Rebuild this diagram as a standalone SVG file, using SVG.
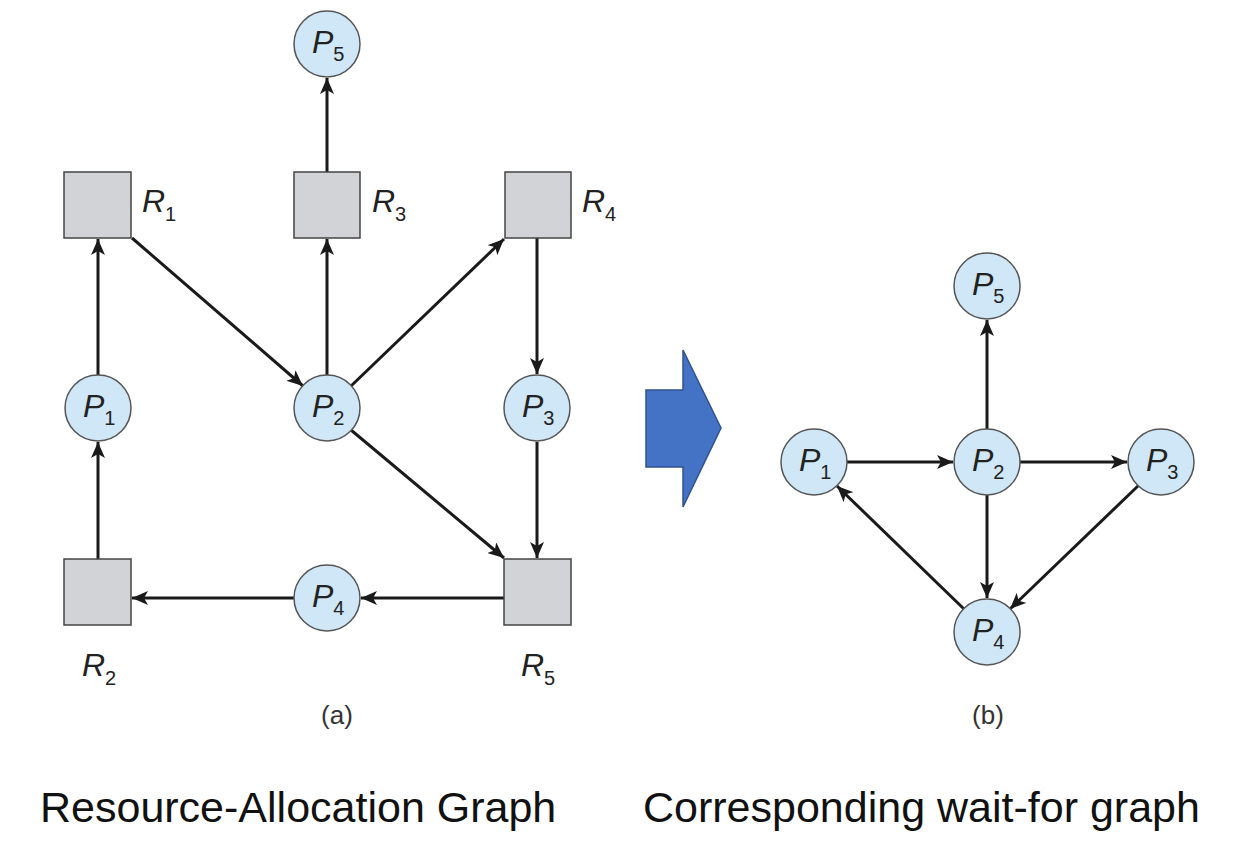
<svg xmlns="http://www.w3.org/2000/svg" width="1234" height="865" viewBox="0 0 1234 865">
<style>
.p{fill:#cfe7f6;stroke:#555;stroke-width:1.5}
.r{fill:#d1d3d6;stroke:#444;stroke-width:1.5}
.e{stroke:#1a1a1a;stroke-width:3;fill:none;marker-end:url(#ah)}
.lb{font-family:"Liberation Sans",Arial,sans-serif;fill:#222}
.it{font-style:italic;font-size:32px}
.sb{font-size:20px}
.cap{font-family:"Liberation Sans",Arial,sans-serif;font-size:43px;fill:#111}
.sm{font-family:"Liberation Sans",Arial,sans-serif;font-size:26px;fill:#333}
</style>
<defs>
<marker id="ah" markerUnits="userSpaceOnUse" markerWidth="18" markerHeight="14" refX="16" refY="7" orient="auto">
<path d="M0,0 L16,7 L0,14 L4,7 Z" fill="#1a1a1a"/>
</marker>
</defs>
<rect width="1234" height="865" fill="#fff"/>
<g id="connectors">
<line class="e" x1="327" y1="172" x2="327" y2="78"/>
<line class="e" x1="327" y1="375" x2="327" y2="239"/>
<line class="e" x1="132" y1="238" x2="303" y2="386"/>
<line class="e" x1="351" y1="386" x2="504" y2="239"/>
<line class="e" x1="537" y1="238" x2="537" y2="374"/>
<line class="e" x1="537" y1="442" x2="537" y2="558"/>
<line class="e" x1="351" y1="430" x2="504" y2="558"/>
<line class="e" x1="504" y1="598" x2="361" y2="598"/>
<line class="e" x1="294" y1="598" x2="132" y2="598"/>
<line class="e" x1="98" y1="559" x2="98" y2="442"/>
<line class="e" x1="98" y1="375" x2="98" y2="239"/>
<line class="e" x1="987" y1="429" x2="987" y2="320"/>
<line class="e" x1="847" y1="462" x2="953" y2="462"/>
<line class="e" x1="1020" y1="462" x2="1127" y2="462"/>
<line class="e" x1="987" y1="495" x2="987" y2="598"/>
<line class="e" x1="1139" y1="485" x2="1010" y2="609"/>
<line class="e" x1="964" y1="609" x2="837" y2="486"/>
</g>
<g id="R1"><rect class="r" x="64" y="172" width="67" height="66"/><text class="lb" x="142" y="212"><tspan class="it">R</tspan><tspan class="sb" dy="9">1</tspan></text></g>
<g id="R3"><rect class="r" x="294" y="172" width="66" height="66"/><text class="lb" x="372" y="212"><tspan class="it">R</tspan><tspan class="sb" dy="9">3</tspan></text></g>
<g id="R4"><rect class="r" x="505" y="172" width="66" height="66"/><text class="lb" x="582" y="212"><tspan class="it">R</tspan><tspan class="sb" dy="9">4</tspan></text></g>
<g id="R2"><rect class="r" x="64" y="559" width="67" height="66"/><text class="lb" x="82" y="676"><tspan class="it">R</tspan><tspan class="sb" dy="9">2</tspan></text></g>
<g id="R5"><rect class="r" x="504" y="559" width="67" height="66"/><text class="lb" x="521" y="676"><tspan class="it">R</tspan><tspan class="sb" dy="9">5</tspan></text></g>
<g id="P5a"><circle class="p" cx="327" cy="44" r="33"/><text class="lb" x="312" y="53"><tspan class="it">P</tspan><tspan class="sb" dy="8">5</tspan></text></g>
<g id="P1a"><circle class="p" cx="98" cy="408" r="33"/><text class="lb" x="83" y="417"><tspan class="it">P</tspan><tspan class="sb" dy="8">1</tspan></text></g>
<g id="P2a"><circle class="p" cx="327" cy="408" r="33"/><text class="lb" x="312" y="417"><tspan class="it">P</tspan><tspan class="sb" dy="8">2</tspan></text></g>
<g id="P3a"><circle class="p" cx="537" cy="408" r="33"/><text class="lb" x="522" y="417"><tspan class="it">P</tspan><tspan class="sb" dy="8">3</tspan></text></g>
<g id="P4a"><circle class="p" cx="327" cy="598" r="33"/><text class="lb" x="312" y="607"><tspan class="it">P</tspan><tspan class="sb" dy="8">4</tspan></text></g>
<g id="P5b"><circle class="p" cx="987" cy="286" r="33"/><text class="lb" x="972" y="295"><tspan class="it">P</tspan><tspan class="sb" dy="8">5</tspan></text></g>
<g id="P1b"><circle class="p" cx="814" cy="462" r="33"/><text class="lb" x="799" y="471"><tspan class="it">P</tspan><tspan class="sb" dy="8">1</tspan></text></g>
<g id="P2b"><circle class="p" cx="987" cy="462" r="33"/><text class="lb" x="972" y="471"><tspan class="it">P</tspan><tspan class="sb" dy="8">2</tspan></text></g>
<g id="P3b"><circle class="p" cx="1161" cy="462" r="33"/><text class="lb" x="1146" y="471"><tspan class="it">P</tspan><tspan class="sb" dy="8">3</tspan></text></g>
<g id="P4b"><circle class="p" cx="987" cy="632" r="33"/><text class="lb" x="972" y="641"><tspan class="it">P</tspan><tspan class="sb" dy="8">4</tspan></text></g>
<g id="arrow"><polygon points="646,390 683,390 683,350 721,428 683,507 683,467 646,467" fill="#4472c4" stroke="#2f528f" stroke-width="1.5"/></g>
<text class="sm" x="337" y="724" text-anchor="middle">(a)</text>
<text class="sm" x="988" y="724" text-anchor="middle">(b)</text>
<text class="cap" x="40" y="822">Resource-Allocation Graph</text>
<text class="cap" x="643" y="822">Corresponding wait-for graph</text>
</svg>
